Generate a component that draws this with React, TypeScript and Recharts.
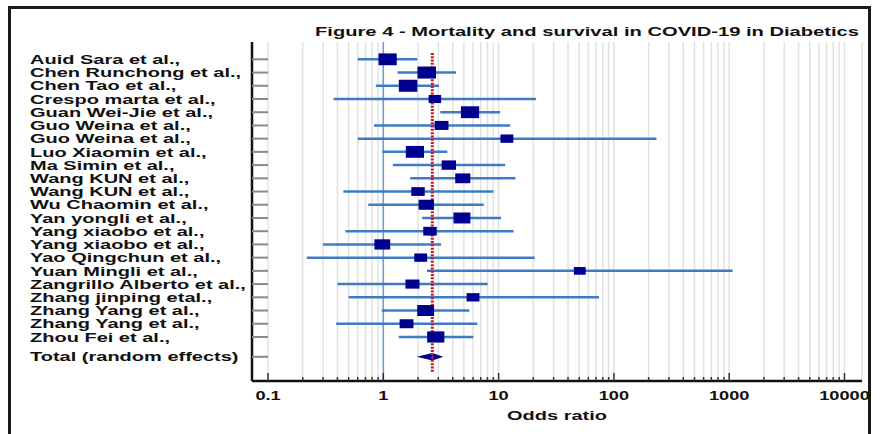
import React from 'react'
import {
  ComposedChart,
  Scatter,
  ErrorBar,
  XAxis,
  YAxis,
  CartesianGrid,
  ReferenceLine,
  ReferenceArea,
  Customized,
} from 'recharts'

// study labels, top to bottom
const studies = [
  'Auid Sara et al.,',
  'Chen Runchong et al.,',
  'Chen Tao et al.,',
  'Crespo marta et al.,',
  'Guan Wei-Jie et al.,',
  'Guo Weina et al.,',
  'Guo Weina et al.,',
  'Luo Xiaomin et al.,',
  'Ma Simin et al.,',
  'Wang KUN et al.,',
  'Wang KUN et al.,',
  'Wu Chaomin et al.,',
  'Yan yongli et al.,',
  'Yang xiaobo et al.,',
  'Yang xiaobo et al.,',
  'Yao Qingchun et al.,',
  'Yuan Mingli et al.,',
  'Zangrillo Alberto et al.,',
  'Zhang jinping etal.,',
  'Zhang Yang et al.,',
  'Zhang Yang et al.,',
  'Zhou Fei et al.,',
]

// odds ratio and 95% CI
const oddsRatio = [1.09, 2.38, 1.64, 2.8, 5.65, 3.2, 11.8, 1.88, 3.7, 4.89, 2.0, 2.36, 4.81, 2.54, 0.98, 2.11, 50.6, 1.79, 6.0, 2.33, 1.59, 2.85]
const ciLow = [0.6, 1.33, 0.86, 0.37, 3.12, 0.83, 0.6, 0.98, 1.21, 1.71, 0.45, 0.74, 2.17, 0.47, 0.3, 0.217, 2.39, 0.4, 0.5, 0.97, 0.39, 1.36]
const ciHigh = [1.97, 4.27, 3.04, 21.1, 10.3, 12.6, 234, 3.59, 11.4, 14.0, 9.0, 7.43, 10.5, 13.5, 3.17, 20.6, 1072, 8.04, 74.3, 5.57, 6.53, 6.03]
// relative weight (%), sets box size
const weights = [6.4, 6.6, 6.6, 3.0, 6.4, 3.7, 3.2, 6.4, 4.0, 4.4, 3.5, 4.6, 5.5, 3.5, 4.8, 3.2, 2.7, 3.8, 3.2, 5.5, 3.7, 5.7]

const totalLabel = 'Total (random effects)'
const totalOR = 2.66
const totalLow = 1.95
const totalHigh = 3.31
const totalRow = 22.5

const majorTicks = [0.1, 1, 10, 100, 1000, 10000]
const allTicks = [
  0.1, 0.2, 0.3, 0.4, 0.5, 0.6, 0.7, 0.8, 0.9,
  1, 2, 3, 4, 5, 6, 7, 8, 9,
  10, 20, 30, 40, 50, 60, 70, 80, 90,
  100, 200, 300, 400, 500, 600, 700, 800, 900,
  1000, 2000, 3000, 4000, 5000, 6000, 7000, 8000, 9000,
  10000,
]

const FONT = '"Liberation Sans", Arial, sans-serif'

const points = studies.map((name, i) => ({
  name,
  row: i,
  or: oddsRatio[i],
  err: [oddsRatio[i] - ciLow[i], ciHigh[i] - oddsRatio[i]],
  weight: weights[i],
}))

const rowTicks = [...studies.map((_, i) => i), totalRow]

function StudyTick({ x, y, payload }: any) {
  const label = payload.value === totalRow ? totalLabel : studies[payload.value]
  return (
    <g>
      <line x1={x} x2={x + 16} y1={y} y2={y} stroke="#8a8a8a" strokeWidth={2} />
      <g transform={`translate(30, ${y}) scale(1.54, 1)`}>
        <text x={0} y={0} dy="0.36em" fontSize={13} fontWeight="bold" fill="#111" fontFamily={FONT}>
          {label}
        </text>
      </g>
    </g>
  )
}

function OddsTick({ x, y, payload }: any) {
  const major = majorTicks.includes(payload.value)
  return (
    <g>
      <line x1={x} x2={x} y1={y} y2={y - (major ? 8 : 4)} stroke="#333" strokeWidth={1.5} />
      {major && (
        <g transform={`translate(${x}, ${y + 14}) scale(1.4, 1)`}>
          <text x={0} y={0} dy="0.36em" textAnchor="middle" fontSize={13} fontWeight="bold" fill="#111" fontFamily={FONT}>
            {payload.value}
          </text>
        </g>
      )}
    </g>
  )
}

function StudyBox({ cx, cy, payload }: any) {
  const w = 7.2 * Math.sqrt(payload.weight)
  const h = w * 0.65
  return <rect x={cx - w / 2} y={cy - h / 2} width={w} height={h} fill="#00008f" />
}

// left and right halves of the pooled diamond
function LeftHalf({ x, y, width, height }: any) {
  const top = Math.min(y, y + height)
  const h = Math.abs(height)
  return <polygon points={`${x},${top + h / 2} ${x + width},${top} ${x + width},${top + h}`} fill="#00008f" />
}
function RightHalf({ x, y, width, height }: any) {
  const top = Math.min(y, y + height)
  const h = Math.abs(height)
  return <polygon points={`${x},${top} ${x + width},${top + h / 2} ${x},${top + h}`} fill="#00008f" />
}

function Texts() {
  return (
    <g fontFamily={FONT} fontWeight="bold" fill="#111">
      <text x={587} y={31} dy="0.36em" textAnchor="middle" fontSize={13} textLength={544} lengthAdjust="spacingAndGlyphs">
        Figure 4 - Mortality and survival in COVID-19 in Diabetics
      </text>
      <text x={557} y={415} dy="0.36em" textAnchor="middle" fontSize={13} textLength={100} lengthAdjust="spacingAndGlyphs">
        Odds ratio
      </text>
    </g>
  )
}

export default function App() {
  return (
    <div style={{ position: 'absolute', left: 0, top: 0, width: 880, height: 434, background: '#fff', fontFamily: FONT }}>
      <div
        style={{
          position: 'absolute',
          left: 8,
          top: 6,
          width: 857,
          height: 440,
          borderTop: '3px solid #1a1a1a',
          borderLeft: '3px solid #1a1a1a',
          borderRight: '3px solid #1a1a1a',
        }}
      />
      <div style={{ position: 'absolute', left: 0, top: 0 }}>
        <ComposedChart width={880} height={434} margin={{ top: 42, right: 18, bottom: 0, left: 0 }}>
          <CartesianGrid horizontal={false} stroke="#e2e2e2" strokeWidth={1.5} />
          <XAxis
            type="number"
            dataKey="or"
            scale="log"
            domain={[0.0726, 14190]}
            allowDataOverflow
            ticks={allTicks}
            interval={0}
            tick={<OddsTick />}
            tickLine={false}
            tickSize={0}
            tickMargin={0}
            axisLine={{ stroke: '#111', strokeWidth: 2.5 }}
            height={53}
          />
          <YAxis
            type="number"
            dataKey="row"
            domain={[-1.31, 24.33]}
            reversed
            ticks={rowTicks}
            interval={0}
            tick={<StudyTick />}
            tickLine={false}
            tickSize={0}
            tickMargin={0}
            axisLine={{ stroke: '#111', strokeWidth: 2.5 }}
            width={252}
          />
          <ReferenceLine x={1} stroke="#6d9bd3" strokeWidth={1.5} />
          <Scatter data={points} shape={<StudyBox />} isAnimationActive={false}>
            <ErrorBar dataKey="err" direction="x" width={0} stroke="#3d7cc4" strokeWidth={2.5} />
          </Scatter>
          <ReferenceLine
            segment={[
              { x: totalOR, y: -0.48 },
              { x: totalOR, y: 23.63 },
            ]}
            stroke="#c8141a"
            strokeWidth={3}
            strokeDasharray="2 1.3"
          />
          <ReferenceArea
            x1={totalLow}
            x2={totalOR}
            y1={totalRow - 0.28}
            y2={totalRow + 0.28}
            shape={(p: any) => <LeftHalf {...p} />}
          />
          <ReferenceArea
            x1={totalOR}
            x2={totalHigh}
            y1={totalRow - 0.28}
            y2={totalRow + 0.28}
            shape={(p: any) => <RightHalf {...p} />}
          />
          <Customized component={Texts} />
        </ComposedChart>
      </div>
    </div>
  )
}
